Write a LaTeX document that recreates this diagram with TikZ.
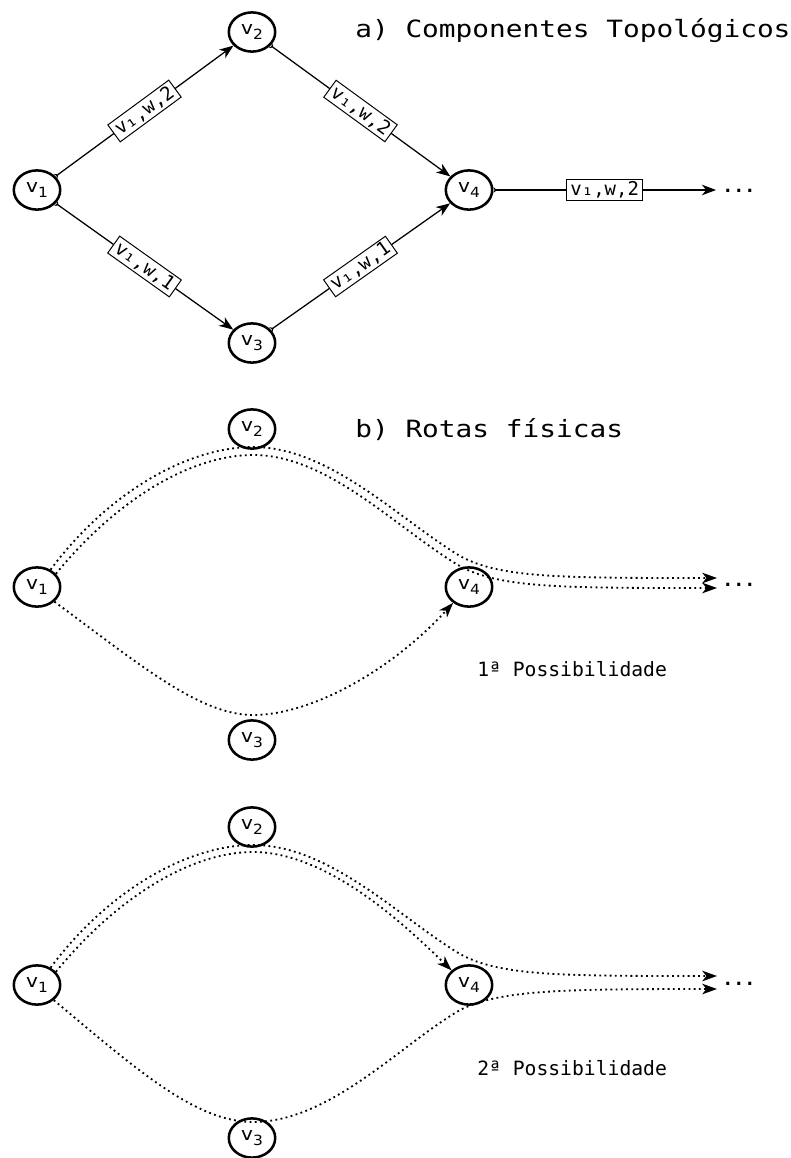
\documentclass[tikz,border=0pt]{standalone}
\usepackage{fontspec}
\usepackage{tikz}
\usetikzlibrary{shapes.geometric,arrows.meta}
\newfontfamily\titulofont[FakeStretch=1.17]{DejaVu Sans Mono}
\newfontfamily\monofont{DejaVu Sans Mono}
\newfontfamily\verticefont[FakeStretch=1.1]{DejaVu Sans}
\newcommand\vrot[1]{v\raisebox{-0.5ex}{\fontsize{10}{10}\selectfont #1}}

\tikzset{
  vertice/.style={ellipse, draw, line width=1.8pt, minimum width=1.16cm, minimum height=0.98cm,
    inner sep=0pt, font=\verticefont\fontsize{13}{13}\selectfont},
  ligacao/.style={line width=0.9pt,
    {Stealth[reversed,length=2.5pt,width=4pt]}-{Stealth[length=10pt,width=7.5pt,inset=3pt]}},
  rotulo/.style={draw, fill=white, line width=0.7pt, inner xsep=2.5pt, inner ysep=1.5pt, sloped,
    font=\monofont\fontsize{13.5}{14}\selectfont},
  rota/.style={line width=1.3pt, dash pattern=on 1.3pt off 2.4pt,
    -{Stealth[length=10.5pt,width=7.5pt,inset=3pt]}},
  titulo/.style={anchor=base west, inner sep=0pt, font=\titulofont\fontsize{16.9}{18}\selectfont},
  legenda/.style={anchor=base west, inner sep=0pt, font=\monofont\fontsize{14}{15}\selectfont},
  reticencias/.style={anchor=base west, inner sep=0pt, font=\monofont\bfseries\fontsize{13}{13}\selectfont}
}

\begin{document}
\begin{tikzpicture}[x=0.025cm, y=-0.025cm]
        \useasboundingbox (0,0) rectangle (790,1158);

        %draw the vertices of the three graphs
        \foreach \n/\y in {a/190,b/587,c/985}{
          \node[vertice] (v1\n) at (37,\y) {\vrot{1}};
          \node[vertice] (v2\n) at (252,\y-158) {\vrot{2}};
          \node[vertice] (v3\n) at (252,\y+153) {\vrot{3}};
          \node[vertice] (v4\n) at (469,\y) {\vrot{4}};
        }

        %a) topological components
        \node[titulo] (tita) at (355,37) {a) Componentes Topológicos};
        \draw[ligacao] (v1a) -- node[rotulo] {v₁,w,2} (v2a);
        \draw[ligacao] (v2a) -- node[rotulo] {v₁,w,2} (v4a);
        \draw[ligacao] (v1a) -- node[rotulo] {v₁,w,1} (v3a);
        \draw[ligacao] (v3a) -- node[rotulo] {v₁,w,1} (v4a);
        \coordinate (fa) at (716,190);
        \draw[ligacao] (v4a) -- node[rotulo] {v₁,w,2} (fa);
        \node[reticencias] (pa) at (722,192) {...};

        %b) physical routes, first possibility
        \node[titulo] (titb) at (355,437) {b) Rotas físicas};
        \coordinate (fb1) at (717,578);
        \coordinate (fb2) at (717,588);
        \draw[rota] (v1b.52) .. controls (110,490) and (190,447) .. (253,447)
          .. controls (330,447) and (400,520) .. (460,556)
          .. controls (500,578) and (560,578) .. (fb1);
        \draw[rota] (v1b.35) .. controls (118,498) and (192,455) .. (253,455)
          .. controls (328,455) and (395,527) .. (458,565)
          .. controls (498,588) and (560,588) .. (fb2);
        \draw[rota] (v1b.-40) .. controls (140,665) and (200,715) .. (253,715)
          .. controls (310,715) and (390,672) .. (v4b.225);
        \node[reticencias] (pb) at (722,586) {...};
        \node[legenda] (legb) at (477,676) {1ª Possibilidade};

        %c) physical routes, second possibility
        \coordinate (fc1) at (717,976);
        \coordinate (fc2) at (717,989);
        \draw[rota] (v1c.52) .. controls (110,888) and (190,845) .. (253,845)
          .. controls (330,845) and (400,918) .. (460,954)
          .. controls (500,976) and (560,976) .. (fc1);
        \draw[rota] (v1c.35) .. controls (118,896) and (192,852) .. (253,852)
          .. controls (330,852) and (410,930) .. (v4c.140);
        \draw[rota] (v1c.-42) .. controls (135,1068) and (195,1122) .. (253,1122)
          .. controls (330,1122) and (400,1045) .. (460,1010)
          .. controls (500,990) and (560,989) .. (fc2);
        \node[reticencias] (pc) at (722,985) {...};
        \node[legenda] (legc) at (477,1075) {2ª Possibilidade};
\end{tikzpicture}
\end{document}
